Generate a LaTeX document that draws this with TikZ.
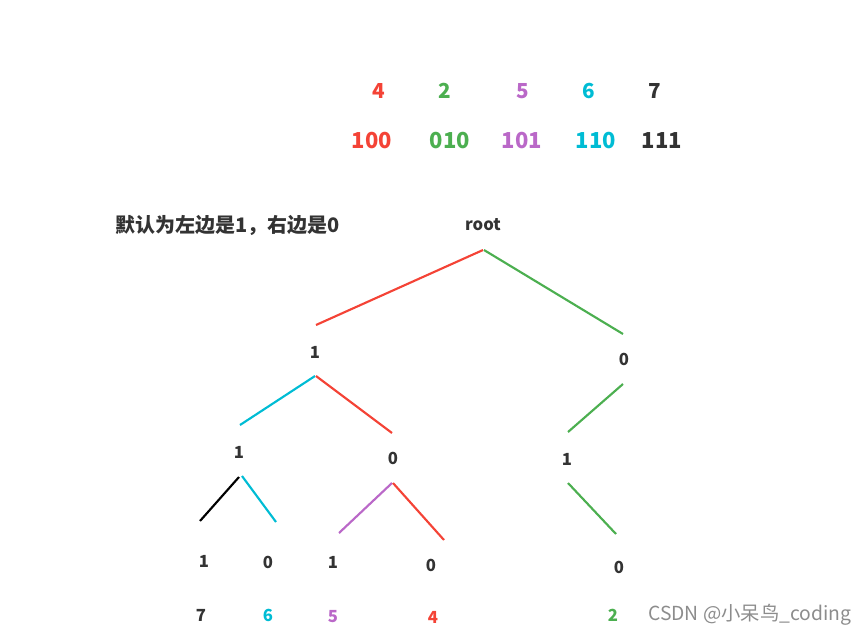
\documentclass[tikz,border=0pt]{standalone}
\usepackage{fontspec}
\usepackage{xcolor}
\usepackage{tikz}
\usetikzlibrary{calc,positioning}
\setmainfont{Noto Sans CJK SC}
\newfontfamily\cjk{Noto Sans CJK SC}
\definecolor{myred}{HTML}{F44336}
\definecolor{mygreen}{HTML}{4CAF50}
\definecolor{mycyan}{HTML}{00BCD4}
\definecolor{mypurple}{HTML}{BA68C8}
\definecolor{mydark}{HTML}{333333}

\begin{document}
\begin{tikzpicture}[x=0.75pt,y=-0.75pt,
                          code/.style={font=\cjk\bfseries\fontsize{15.5}{18}\selectfont, inner sep=0pt},
                          bits/.style={font=\cjk\bfseries\fontsize{16.5}{19}\selectfont, inner sep=0pt},
                          bit/.style={font=\cjk\bfseries\fontsize{12.5}{14}\selectfont, inner sep=0pt, text=mydark},
                          edge/.style={line width=1.6pt},
                         ]

\useasboundingbox (0,0) rectangle (866,636);

% the codes
\node[code, text=myred] (c4) at (379,91) {4};
\node[code, text=mygreen] (c2) at (445,91) {2};
\node[code, text=mypurple] (c5) at (523,91) {5};
\node[code, text=mycyan] (c6) at (589,91) {6};
\node[code, text=mydark] (c7) at (655,91) {7};

\node[bits, text=myred] (b4) at (372,141) {100};
\node[bits, text=mygreen] (b2) at (450,141) {010};
\node[bits, text=mypurple] (b5) at (522,141) {101};
\node[bits, text=mycyan] (b6) at (596,141) {110};
\node[bits, text=mydark] (b7) at (662,141) {111};

\node[anchor=west, inner sep=0pt, text=mydark, font=\cjk\bfseries\fontsize{15}{17}\selectfont] (note) at (115,225) {默认为左边是1，右边是0};

% the tree
\node[bit, font=\cjk\bfseries\fontsize{12.5}{14}\selectfont] (root) at (483,225) {root};
\node[bit] (l) at (315,352) {1};
\node[bit] (r) at (624,359) {0};
\node[bit] (ll) at (239,452) {1};
\node[bit] (lr) at (393,458) {0};
\node[bit] (rl) at (567,459) {1};
\node[bit] (lll) at (204,561) {1};
\node[bit] (llr) at (268,562) {0};
\node[bit] (lrl) at (333,562) {1};
\node[bit] (lrr) at (431,565) {0};
\node[bit] (rll) at (619,567) {0};

\node[bit, text=mydark] (v7) at (201,615) {7};
\node[bit, text=mycyan] (v6) at (268,615) {6};
\node[bit, text=mypurple] (v5) at (333,617) {5};
\node[bit, text=myred] (v4) at (433,617) {4};
\node[bit, text=mygreen] (v2) at (613,615) {2};

\draw[edge, myred] ($(root)+(0,25)$) -- ($(l)+(1,-27)$);
\draw[edge, mygreen] ($(root)+(1,25)$) -- ($(r)+(-1,-25)$);
\draw[edge, mycyan] ($(l)+(0,24)$) -- ($(ll)+(1,-27)$);
\draw[edge, myred] ($(l)+(1,24)$) -- ($(lr)+(-1,-25)$);
\draw[edge, mygreen] ($(r)+(-1,25)$) -- ($(rl)+(1,-27)$);
\draw[edge, black] ($(ll)+(0,25)$) -- ($(lll)+(-4,-40)$);
\draw[edge, mycyan] ($(ll)+(3,24)$) -- ($(llr)+(8,-40)$);
\draw[edge, mypurple] ($(lr)+(-1,25)$) -- ($(lrl)+(6,-29)$);
\draw[edge, myred] ($(lr)+(0,25)$) -- ($(lrr)+(13,-25)$);
\draw[edge, mygreen] ($(rl)+(1,24)$) -- ($(rll)+(-3,-33)$);

\node[anchor=west, inner sep=0pt, text=black!45, font=\cjk\fontsize{14.5}{17}\selectfont] (mark) at (648,615) {CSDN @小呆鸟\_coding};

\end{tikzpicture}
\end{document}
